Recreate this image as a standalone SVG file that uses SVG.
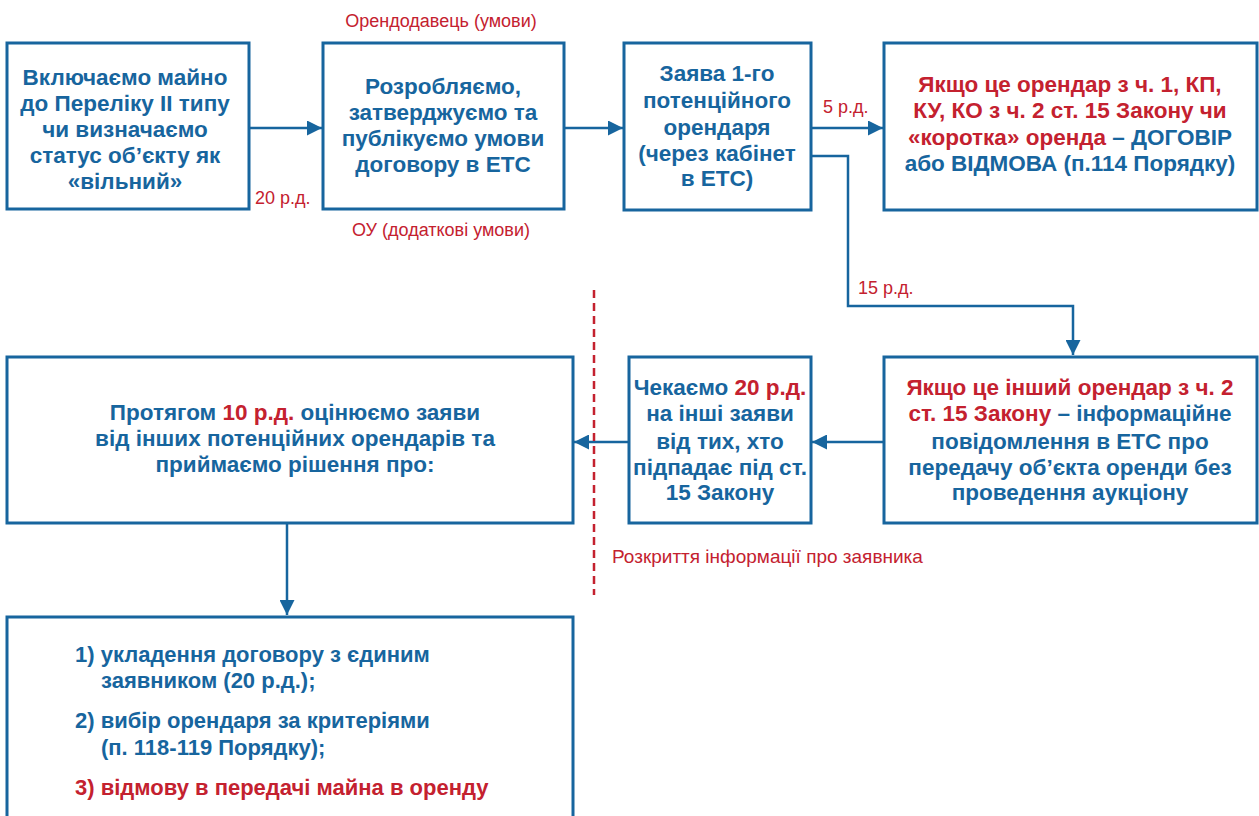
<svg xmlns="http://www.w3.org/2000/svg" width="1259" height="816" viewBox="0 0 1259 816">
<defs>
<style>
.box{fill:#fff;stroke:#17659e;stroke-width:3}
.t{font-family:"Liberation Sans",Arial,sans-serif;font-weight:bold;font-size:22.5px;fill:#17659e;text-anchor:middle}
.tl{font-family:"Liberation Sans",Arial,sans-serif;font-weight:bold;font-size:22px;fill:#17659e}
.r{fill:#c4212f}
.lbl{font-family:"Liberation Sans",Arial,sans-serif;font-size:18px;fill:#c4212f}
.c{fill:none;stroke:#17659e;stroke-width:2.5}
</style>
<marker id="ah" viewBox="0 0 10 10" refX="10" refY="5" markerWidth="6" markerHeight="6" markerUnits="strokeWidth" orient="auto">
<path d="M0,0 L10,5 L0,10 z" fill="#17659e"/>
</marker>
</defs>
<rect width="1259" height="816" fill="#fff"/>

<g id="connectors">
<line class="c" x1="249" y1="128" x2="322" y2="128" marker-end="url(#ah)"/>
<line class="c" x1="564" y1="128" x2="623" y2="128" marker-end="url(#ah)"/>
<line class="c" x1="811" y1="128" x2="883" y2="128" marker-end="url(#ah)"/>
<polyline class="c" points="811,156 848,156 848,306 1073,306 1073,355" marker-end="url(#ah)"/>
<line class="c" x1="884" y1="442" x2="812" y2="442" marker-end="url(#ah)"/>
<line class="c" x1="629" y1="442" x2="574" y2="442" marker-end="url(#ah)"/>
<line class="c" x1="287" y1="523" x2="287" y2="615" marker-end="url(#ah)"/>
<line x1="594" y1="290" x2="594" y2="595" stroke="#c4212f" stroke-width="2.5" stroke-dasharray="8,5"/>
</g>

<g id="labels">
<text class="lbl" x="441" y="27" text-anchor="middle">Орендодавець (умови)</text>
<text class="lbl" x="441" y="236" text-anchor="middle">ОУ (додаткові умови)</text>
<text class="lbl" x="255" y="204">20 р.д.</text>
<text class="lbl" x="823" y="113">5 р.д.</text>
<text class="lbl" x="858" y="294">15 р.д.</text>
<text class="lbl" x="612" y="563" style="font-size:19px">Розкриття інформації про заявника</text>
</g>

<g id="n1">
<rect class="box" x="7" y="43" width="242" height="166"/>
<text class="t" x="125" y="85">Включаємо майно</text>
<text class="t" x="125" y="111">до Переліку ІІ типу</text>
<text class="t" x="125" y="137">чи визначаємо</text>
<text class="t" x="125" y="163">статус об’єкту як</text>
<text class="t" x="125" y="189">«вільний»</text>
</g>

<g id="n2">
<rect class="box" x="323" y="43" width="241" height="166"/>
<text class="t" x="443" y="94">Розробляємо,</text>
<text class="t" x="443" y="120">затверджуємо та</text>
<text class="t" x="443" y="146">публікуємо умови</text>
<text class="t" x="443" y="172">договору в ЕТС</text>
</g>

<g id="n3">
<rect class="box" x="624" y="43" width="187" height="167"/>
<text class="t" x="717" y="81">Заява 1-го</text>
<text class="t" x="717" y="108">потенційного</text>
<text class="t" x="717" y="135">орендаря</text>
<text class="t" x="717" y="161">(через кабінет</text>
<text class="t" x="717" y="186">в ЕТС)</text>
</g>

<g id="n4">
<rect class="box" x="884" y="43" width="373" height="167"/>
<text class="t" x="1070" y="92"><tspan class="r">Якщо це орендар з ч. 1, КП,</tspan></text>
<text class="t" x="1070" y="118"><tspan class="r">КУ, КО з ч. 2 ст. 15 Закону чи</tspan></text>
<text class="t" x="1070" y="145"><tspan class="r">«коротка» оренда</tspan> – ДОГОВІР</text>
<text class="t" x="1070" y="171">або ВІДМОВА (п.114 Порядку)</text>
</g>

<g id="n5">
<rect class="box" x="884" y="357" width="373" height="166"/>
<text class="t" x="1070" y="395"><tspan class="r">Якщо це інший орендар з ч. 2</tspan></text>
<text class="t" x="1070" y="421"><tspan class="r">ст. 15 Закону</tspan> – інформаційне</text>
<text class="t" x="1070" y="449">повідомлення в ЕТС про</text>
<text class="t" x="1070" y="475">передачу об’єкта оренди без</text>
<text class="t" x="1070" y="500">проведення аукціону</text>
</g>

<g id="n6">
<rect class="box" x="629" y="357" width="182" height="166"/>
<text class="t" x="720" y="395">Чекаємо <tspan class="r">20 р.д.</tspan></text>
<text class="t" x="720" y="421">на інші заяви</text>
<text class="t" x="720" y="449">від тих, хто</text>
<text class="t" x="720" y="475">підпадає під ст.</text>
<text class="t" x="720" y="500">15 Закону</text>
</g>

<g id="n7">
<rect class="box" x="7" y="357" width="566" height="166"/>
<text class="t" x="295" y="420">Протягом <tspan class="r">10 р.д.</tspan> оцінюємо заяви</text>
<text class="t" x="295" y="446">від інших потенційних орендарів та</text>
<text class="t" x="295" y="472">приймаємо рішення про:</text>
</g>

<g id="n8">
<rect class="box" x="7" y="617" width="566" height="215"/>
<text class="tl" x="75" y="662">1) укладення договору з єдиним</text>
<text class="tl" x="101" y="688">заявником (20 р.д.);</text>
<text class="tl" x="75" y="728">2) вибір орендаря за критеріями</text>
<text class="tl" x="101" y="755">(п. 118-119 Порядку);</text>
<text class="tl r" x="75" y="795">3) відмову в передачі майна в оренду</text>
</g>
</svg>
